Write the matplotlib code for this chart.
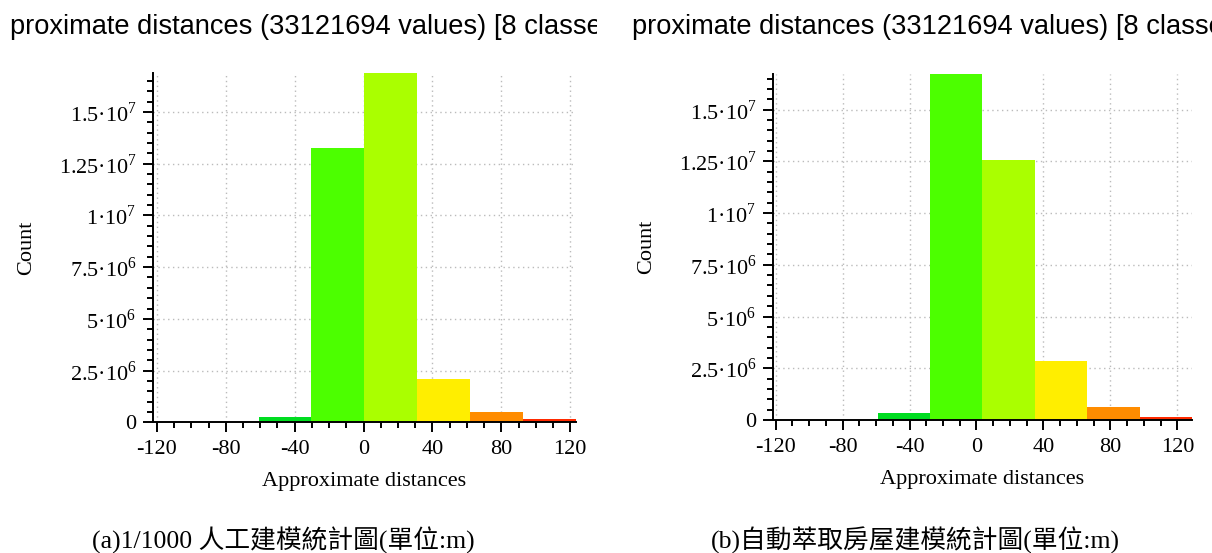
import numpy as np
import matplotlib
matplotlib.use("Agg")
import matplotlib.pyplot as plt
from matplotlib.ticker import FixedLocator, MultipleLocator

plt.rcParams["font.family"] = ["Liberation Serif", "Noto Sans CJK TC"]
plt.rcParams["mathtext.fontset"] = "custom"
plt.rcParams["mathtext.rm"] = "Liberation Serif"

# class edges (m) and counts per class for the two models
edges_a = [-122.1, -91.4, -60.8, -30.3, 0.4, 31.0, 62.0, 92.8, 123.2]
counts_a = [8e3, 2.5e4, 2.4e5, 1.326e7, 1.69e7, 2.11e6, 4.8e5, 1.45e5]

edges_b = [-121.4, -90.2, -58.9, -28.0, 3.3, 34.8, 66.2, 97.6, 128.6]
counts_b = [5e3, 1.5e4, 3.3e5, 1.672e7, 1.255e7, 2.86e6, 6.5e5, 1.6e5]

class_colors = ["#3a5fff", "#00c0c0", "#00dd20", "#4cff00",
                "#aaff00", "#ffee00", "#ff8c00", "#ff2a00"]

header = "proximate distances (33121694 values) [8 classe"
captions = ["(a)1/1000 人工建模統計圖(單位:m)", "(b)自動萃取房屋建模統計圖(單位:m)"]

ytick_vals = [0, 2.5e6, 5e6, 7.5e6, 1e7, 1.25e7, 1.5e7]
ytick_labels = ["0", "2.5·10$^{6}$", "5·10$^{6}$", "7.5·10$^{6}$",
                "1·10$^{7}$", "1.25·10$^{7}$", "1.5·10$^{7}$"]
xtick_vals = [-120, -80, -40, 0, 40, 80, 120]

W, H = 1212, 553
fig = plt.figure(figsize=(W / 100, H / 100), dpi=100)


def px_axes(x0, y0, x1, y1):
    # axes from pixel box (top-left origin)
    return fig.add_axes([x0 / W, 1 - y1 / H, (x1 - x0) / W, (y1 - y0) / H])


def histogram(ax, edges, counts):
    edges = np.asarray(edges)
    ax.bar(edges[:-1], counts, width=np.diff(edges), align="edge",
           color=class_colors, linewidth=0, zorder=2)
    ax.set_xlim(edges[0], edges[-1])
    ax.set_ylim(0, max(counts))
    ax.spines[["top", "right"]].set_visible(False)
    for s in ("left", "bottom"):
        ax.spines[s].set_linewidth(1.4)
        ax.spines[s].set_zorder(3)
    ax.xaxis.set_major_locator(FixedLocator(xtick_vals))
    ax.xaxis.set_minor_locator(MultipleLocator(10))
    ax.set_xticklabels([str(v) for v in xtick_vals])
    ax.yaxis.set_major_locator(FixedLocator(ytick_vals))
    ax.yaxis.set_minor_locator(MultipleLocator(5e5))
    ax.set_yticklabels(ytick_labels)
    ax.tick_params(which="major", length=7, width=1.4, labelsize=16)
    ax.tick_params(which="minor", length=4.5, width=1.4)
    ax.tick_params(axis="y", which="major", pad=5)
    ax.tick_params(axis="x", which="major", pad=6)
    ax.grid(True, which="major", linestyle=(0, (1, 2.5)), color="#bbbbbb",
            linewidth=1.0, zorder=1)
    ax.set_xlabel("Approximate distances", fontsize=16, labelpad=9)
    ax.set_ylabel("Count", fontsize=16, labelpad=16)


ax_a = px_axes(153.3, 72.7, 575.7, 422.3)
histogram(ax_a, edges_a, counts_a)
ax_b = px_axes(773.3, 74, 1191.7, 420)
histogram(ax_b, edges_b, counts_b)

# header strips above each panel, text clipped at the strip edge
for x0, x1 in [(0, 597), (620, 1212)]:
    hx = px_axes(x0, 0, x1, 50)
    hx.set_axis_off()
    hx.set_xlim(0, x1 - x0)
    hx.set_ylim(50, 0)
    hx.text(10 if x0 == 0 else 12, 27, header, family="Liberation Sans",
            fontsize=19.6, va="center", ha="left", clip_on=True)

fig.text(283 / W, 1 - 540 / H, captions[0], ha="center", va="center", fontsize=18.5)
fig.text(915 / W, 1 - 540 / H, captions[1], ha="center", va="center", fontsize=18.5)

fig.savefig("out.png", dpi=100)
